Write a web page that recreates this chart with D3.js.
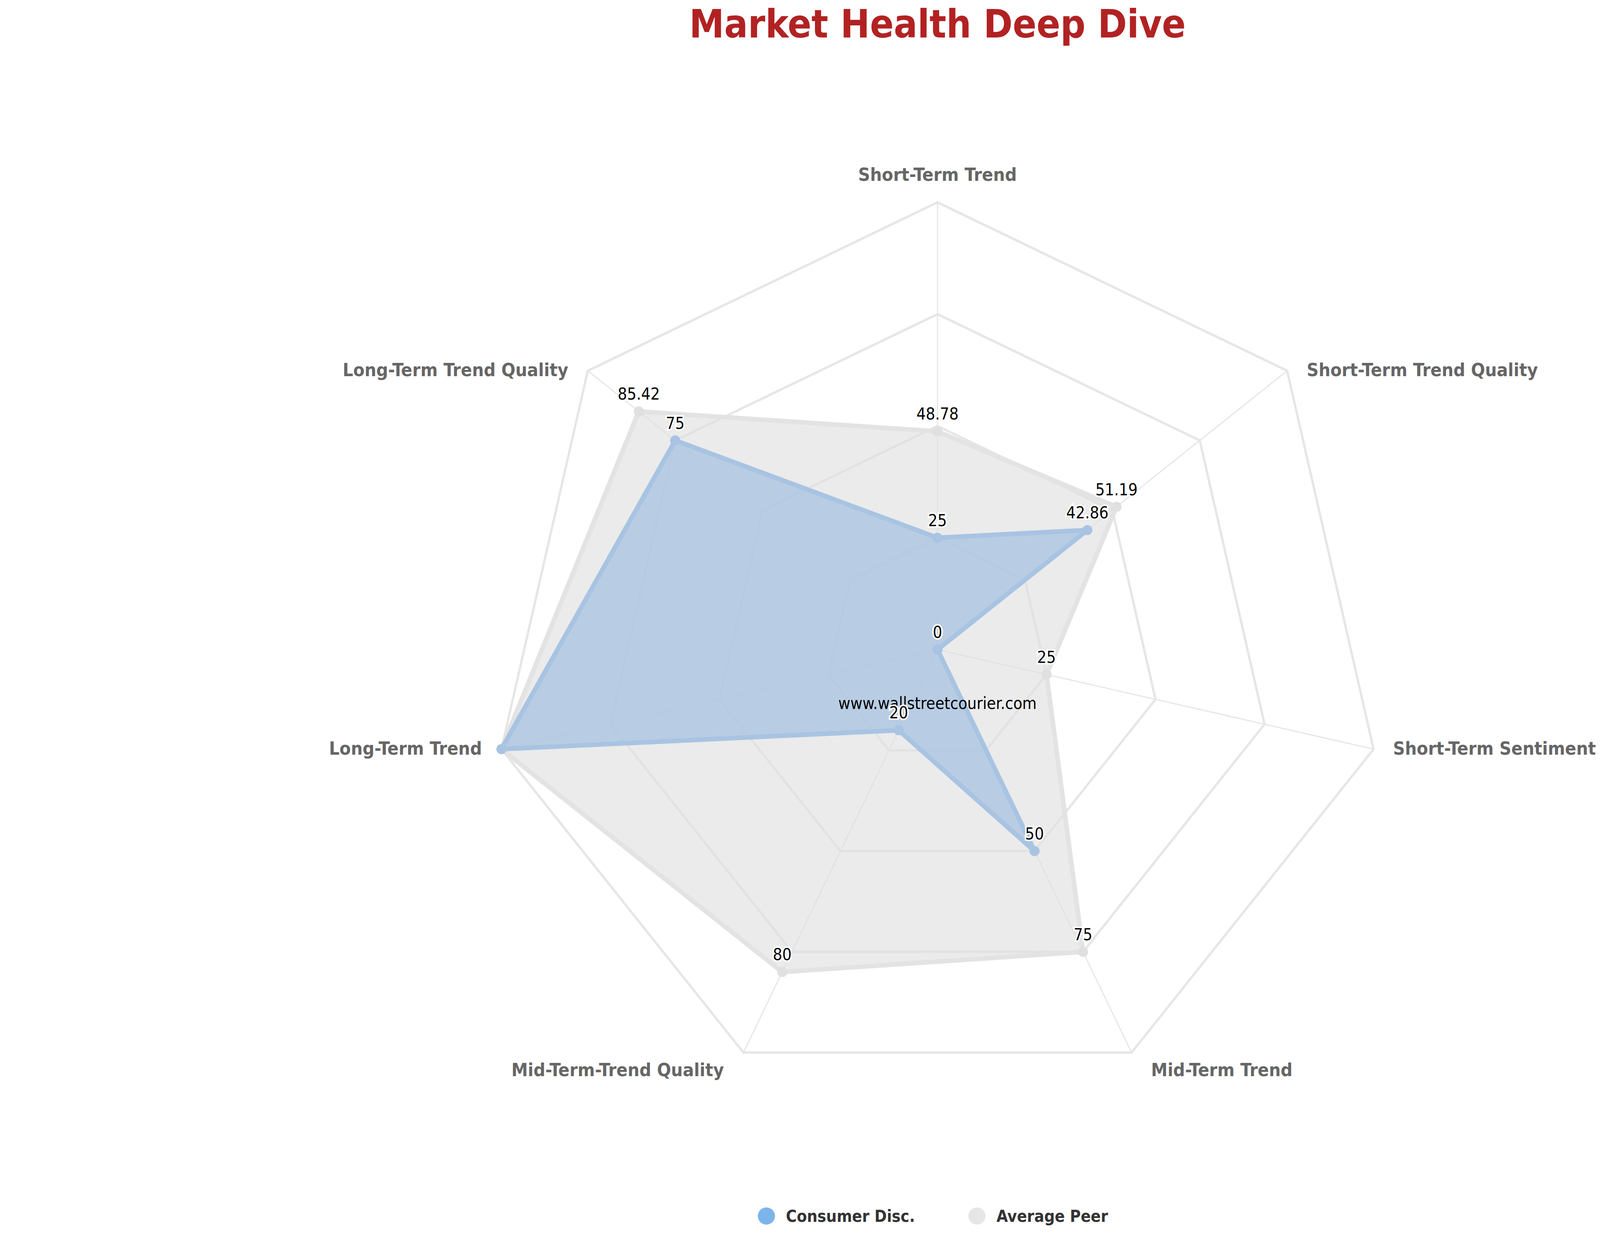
<!DOCTYPE html>
<html>
<head>
<meta charset="utf-8">
<script src="https://cdn.jsdelivr.net/npm/d3@7"></script>
<style>
  body { margin: 0; background: #fff; }
  svg { font-family: "DejaVu Sans Condensed", "DejaVu Sans", sans-serif; }
</style>
</head>
<body>
<script>
// chart data
const axes = ["Short-Term Trend", "Short-Term Trend Quality", "Short-Term Sentiment", "Mid-Term Trend",
              "Mid-Term-Trend Quality", "Long-Term Trend", "Long-Term Trend Quality"];
const consumerDisc = [25, 42.86, 0, 50, 20, 100, 75];
const averagePeer = [48.78, 51.19, 25, 75, 80, 100, 85.42];
const gridTicks = [25, 50, 75, 100];
const seriesNames = ["Consumer Disc.", "Average Peer"];

const W = 4800, H = 3200;
const cx = 2400, cy = 1663, R = 1145;

const svg = d3.select("body").append("svg").attr("width", W).attr("height", H);

const rScale = d3.scaleLinear().domain([0, 100]).range([0, R]);
const aScale = d3.scaleLinear().domain([0, axes.length]).range([0, 2 * Math.PI]);
const pt = (i, v) => [cx + rScale(v) * Math.sin(aScale(i)), cy - rScale(v) * Math.cos(aScale(i))];

// title
svg.append("text")
    .attr("x", W / 2).attr("y", 96)
    .attr("text-anchor", "middle")
    .attr("fill", "#b22222")
    .style("font-weight", "bold")
    .style("font-size", "100px")
    .text("Market Health Deep Dive");

const grid = svg.append("g").attr("fill", "none").attr("stroke", "#e6e6e6");

grid.selectAll("polygon")
    .data(gridTicks)
    .join("polygon")
    .attr("stroke-width", 6)
    .attr("points", t => axes.map((_, i) => pt(i, t).join(",")).join(" "));

grid.selectAll("line")
    .data(axes)
    .join("line")
    .attr("stroke-width", 3)
    .attr("x1", cx).attr("y1", cy)
    .attr("x2", (_, i) => pt(i, 100)[0])
    .attr("y2", (_, i) => pt(i, 100)[1]);

// axis labels
svg.append("g").selectAll("text")
    .data(axes)
    .join("text")
    .attr("x", (_, i) => {
        const s = Math.sin(aScale(i));
        return pt(i, 100)[0] + (Math.abs(s) < 0.01 ? 0 : (s > 0 ? 1 : -1) * 50);
    })
    .attr("y", (_, i) => {
        const c = Math.cos(aScale(i));
        const y = pt(i, 100)[1];
        if (c > 0.99) return y - 55;
        if (c < -0.8) return y + 60;
        return y + 14;
    })
    .attr("text-anchor", (_, i) => {
        const s = Math.sin(aScale(i));
        return Math.abs(s) < 0.01 ? "middle" : (s > 0 ? "start" : "end");
    })
    .attr("fill", "#666")
    .style("font-weight", "bold")
    .style("font-size", "47px")
    .text(d => d);

const series = [
    { name: seriesNames[1], values: averagePeer, fill: "#e0e0e0", fillOpacity: 0.65, stroke: "#e3e3e3", marker: "#e0e0e0" },
    { name: seriesNames[0], values: consumerDisc, fill: "#a7c3e2", fillOpacity: 0.75, stroke: "#a8c4e2", marker: "#a8c4e2" }
];

const line = d3.lineRadial()
    .angle((_, i) => aScale(i))
    .radius(d => rScale(d))
    .curve(d3.curveLinearClosed);

series.forEach(s => {
    const g = svg.append("g").attr("transform", `translate(${cx},${cy})`);
    g.append("path")
        .attr("d", line(s.values))
        .attr("fill", s.fill)
        .attr("fill-opacity", s.fillOpacity)
        .attr("stroke", s.stroke)
        .attr("stroke-width", 12)
        .attr("stroke-linejoin", "round");
});

// markers and labels drawn last
series.forEach(s => {
    svg.append("g").selectAll("circle")
        .data(s.values)
        .join("circle")
        .attr("cx", (d, i) => pt(i, d)[0])
        .attr("cy", (d, i) => pt(i, d)[1])
        .attr("r", 13)
        .attr("fill", s.marker);
});

// watermark
svg.append("text")
    .attr("x", cx).attr("y", 1815)
    .attr("text-anchor", "middle")
    .attr("fill", "#000")
    .style("font-size", "42px")
    .text("www.wallstreetcourier.com");

series.forEach(s => {
    svg.append("g").selectAll("text")
        .data(s.values.map((v, i) => ({ v, i })).filter(d => d.v < 100))
        .join("text")
        .attr("x", d => pt(d.i, d.v)[0])
        .attr("y", d => pt(d.i, d.v)[1] - 30)
        .attr("text-anchor", "middle")
        .attr("fill", "#000")
        .attr("stroke", "#fff")
        .attr("stroke-width", 8)
        .attr("paint-order", "stroke")
        .style("font-size", "42px")
        .text(d => d.v);
});

// legend
const legend = svg.append("g");
const legendItems = [
    { name: seriesNames[0], color: "#7cb5ec", x: 1962 },
    { name: seriesNames[1], color: "#e6e6e6", x: 2501 }
];
legendItems.forEach(d => {
    legend.append("circle").attr("cx", d.x).attr("cy", 3113).attr("r", 22).attr("fill", d.color);
    legend.append("text")
        .attr("x", d.x + 50).attr("y", 3128)
        .attr("fill", "#333")
        .style("font-weight", "bold")
        .style("font-size", "42px")
        .text(d.name);
});
</script>
</body>
</html>
